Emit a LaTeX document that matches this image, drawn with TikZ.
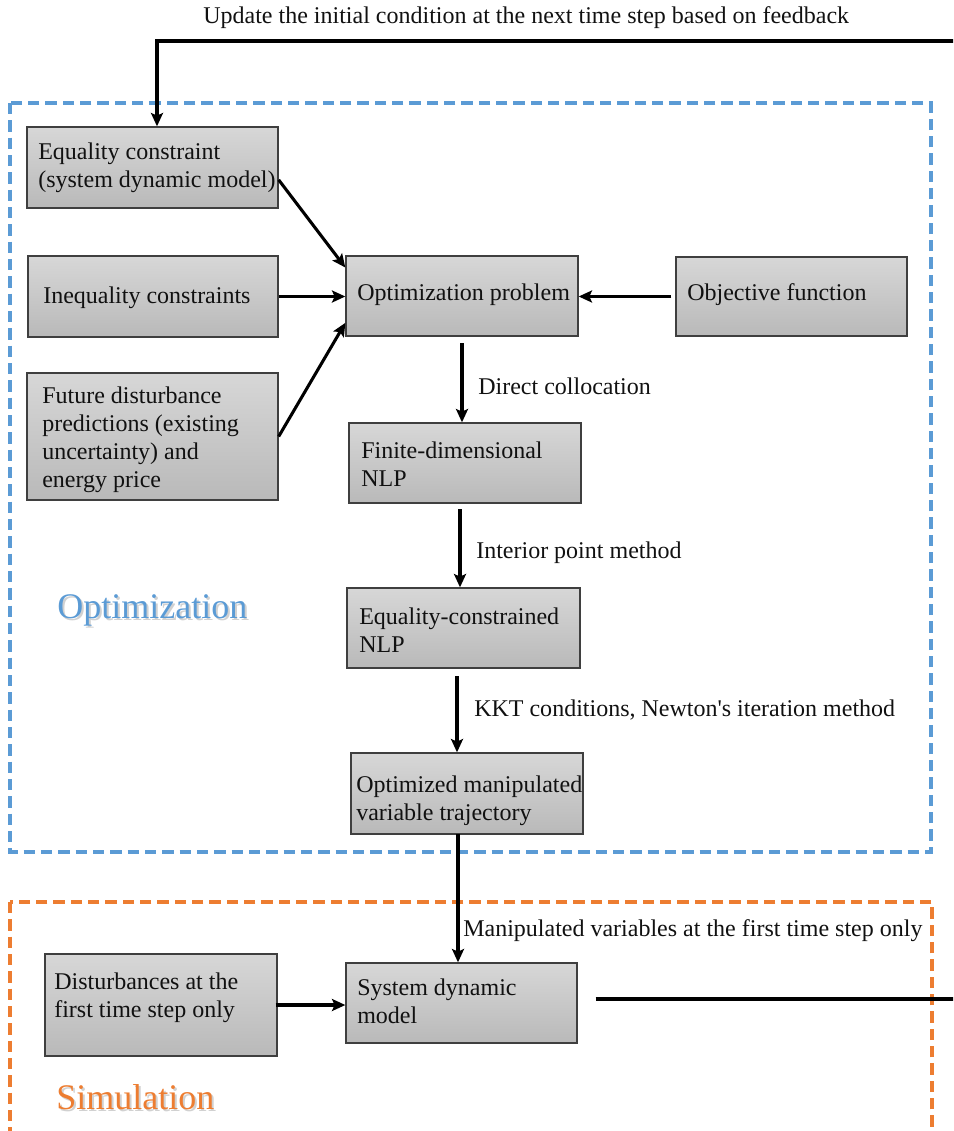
\documentclass[tikz,border=0pt]{standalone}
\usepackage{fontspec}
\setmainfont{Liberation Serif}[Ligatures=TeXOff]
\usetikzlibrary{arrows.meta,calc,fit}
\definecolor{boxtop}{HTML}{D7D7D7}
\definecolor{boxbot}{HTML}{B9B9B9}
\definecolor{boxline}{HTML}{3F3F3F}
\definecolor{optblue}{HTML}{5B9BD5}
\definecolor{simorange}{HTML}{ED7D31}
\definecolor{ink}{HTML}{111111}
\tikzset{
  box/.style={draw=boxline, line width=1pt, top color=boxtop, bottom color=boxbot, inner sep=0pt},
  txt/.style={anchor=west, align=left, inner sep=0pt, text=ink, font=\fontsize{18}{21}\selectfont},
  lbl/.style={anchor=west, inner sep=0pt, text=ink, font=\fontsize{18}{21}\selectfont},
  arr/.style={draw=black, line width=2.3pt, -{Stealth[length=10pt,width=9pt,inset=2pt]}},
  plain/.style={draw=black, line width=2.3pt},
  optframe/.style={draw=optblue, line width=2.4pt, dash pattern=on 8.5pt off 4.5pt},
  simframe/.style={draw=simorange, line width=2.4pt, dash pattern=on 8.5pt off 4.5pt},
  region/.style={anchor=west, inner sep=0pt, font=\fontsize{27}{30}\selectfont},
  regionshade/.style={region, text=black, opacity=0.18}
}
\begin{document}
\begin{tikzpicture}[x=0.75pt, y=-0.75pt]
\useasboundingbox (0,0) rectangle (953,1131);
\begin{scope}
\clip (0,0) rectangle (953,1131);

% dashed frames of the two stages
\draw[optframe] (10,103) rectangle (931,852);
\draw[simframe] (10,902) rectangle (932,1160);

% stage names, each with a soft drop shadow
\node[regionshade] (optshade) at (59,612) {Optimization};
\node[region, text=optblue] (optname) at (57,610) {Optimization};
\node[regionshade] (simshade) at (58,1099) {Simulation};
\node[region, text=simorange] (simname) at (56,1097) {Simulation};

% boxes
\node[box, fit={(27,127) (278,208)}] (eq) {};
\node[box, fit={(28,256) (278,337)}] (ineq) {};
\node[box, fit={(27,373) (278,500)}] (fut) {};
\node[box, fit={(346,256) (578,336)}] (opt) {};
\node[box, fit={(676,257) (907,336)}] (obj) {};
\node[box, fit={(349,423) (581,503)}] (fin) {};
\node[box, fit={(347,588) (580,668)}] (eqc) {};
\node[box, fit={(351,753) (583,834)}] (traj) {};
\node[box, fit={(45,954) (277,1056)}] (dist) {};
\node[box, fit={(346,963) (577,1043)}] (sys) {};

% box texts
\node[txt] (eqT) at (38,168) {Equality constraint\\(system dynamic model)};
\node[txt] (ineqT) at (43,298) {Inequality constraints};
\node[txt] (futT) at (42,440) {Future disturbance\\predictions (existing\\uncertainty) and\\energy price};
\node[txt] (optT) at (357,295) {Optimization problem};
\node[txt] (objT) at (687,295) {Objective function};
\node[txt] (finT) at (361,464) {Finite-dimensional\\NLP};
\node[txt] (eqcT) at (359,630) {Equality-constrained\\NLP};
\node[txt] (trajT) at (356,801) {Optimized manipulated\\variable trajectory};
\node[txt] (distT) at (54,998) {Disturbances at the\\first time step only};
\node[txt] (sysT) at (357,1001) {System dynamic\\model};

% arrow labels
\node[lbl] (fbL) at (203,18) {Update the initial condition at the next time step based on feedback};
\node[lbl] (dcL) at (478,386) {Direct collocation};
\node[lbl] (ipL) at (476,553) {Interior point method};
\node[lbl] (kktL) at (474,710) {KKT conditions, Newton's iteration method};
\node[lbl] (mvL) at (463,931) {Manipulated variables at the first time step only};

% inputs to the optimization problem
\draw[arr] ($(eq.north east)!0.65!(eq.south east)$) -- ($(opt.north west)!0.15!(opt.south west)$);
\draw[arr] (ineq.east) -- (opt.west |- ineq.east);
\draw[arr] (fut.east) -- ($(opt.north west)!0.83!(opt.south west)$);
\draw[arr] ($(obj.west)+(-4,0)$) -- (opt.east |- obj.west);

% solution chain
\coordinate (s1) at (462,343);
\coordinate (s2) at (460,509);
\coordinate (s3) at (457,676);
\coordinate (s4) at (458,834);
\draw[arr] (s1) -- (s1 |- fin.north);
\draw[arr] (s2) -- (s2 |- eqc.north);
\draw[arr] (s3) -- (s3 |- traj.north);
\draw[arr] (s4) -- (s4 |- sys.north);

% simulation and feedback loop
\draw[arr] ($(dist.east)+(-2,0)$) -- (sys.west |- dist.east);
\coordinate (outS) at (960,999);
\coordinate (outF) at (960,41);
\coordinate (downF) at (157,41);
\draw[plain] ($(sys.east)+(18,-4)$) -- (outS);
\draw[arr] (outF) -- (downF) -- (downF |- eq.north);
\end{scope}
\end{tikzpicture}
\end{document}
